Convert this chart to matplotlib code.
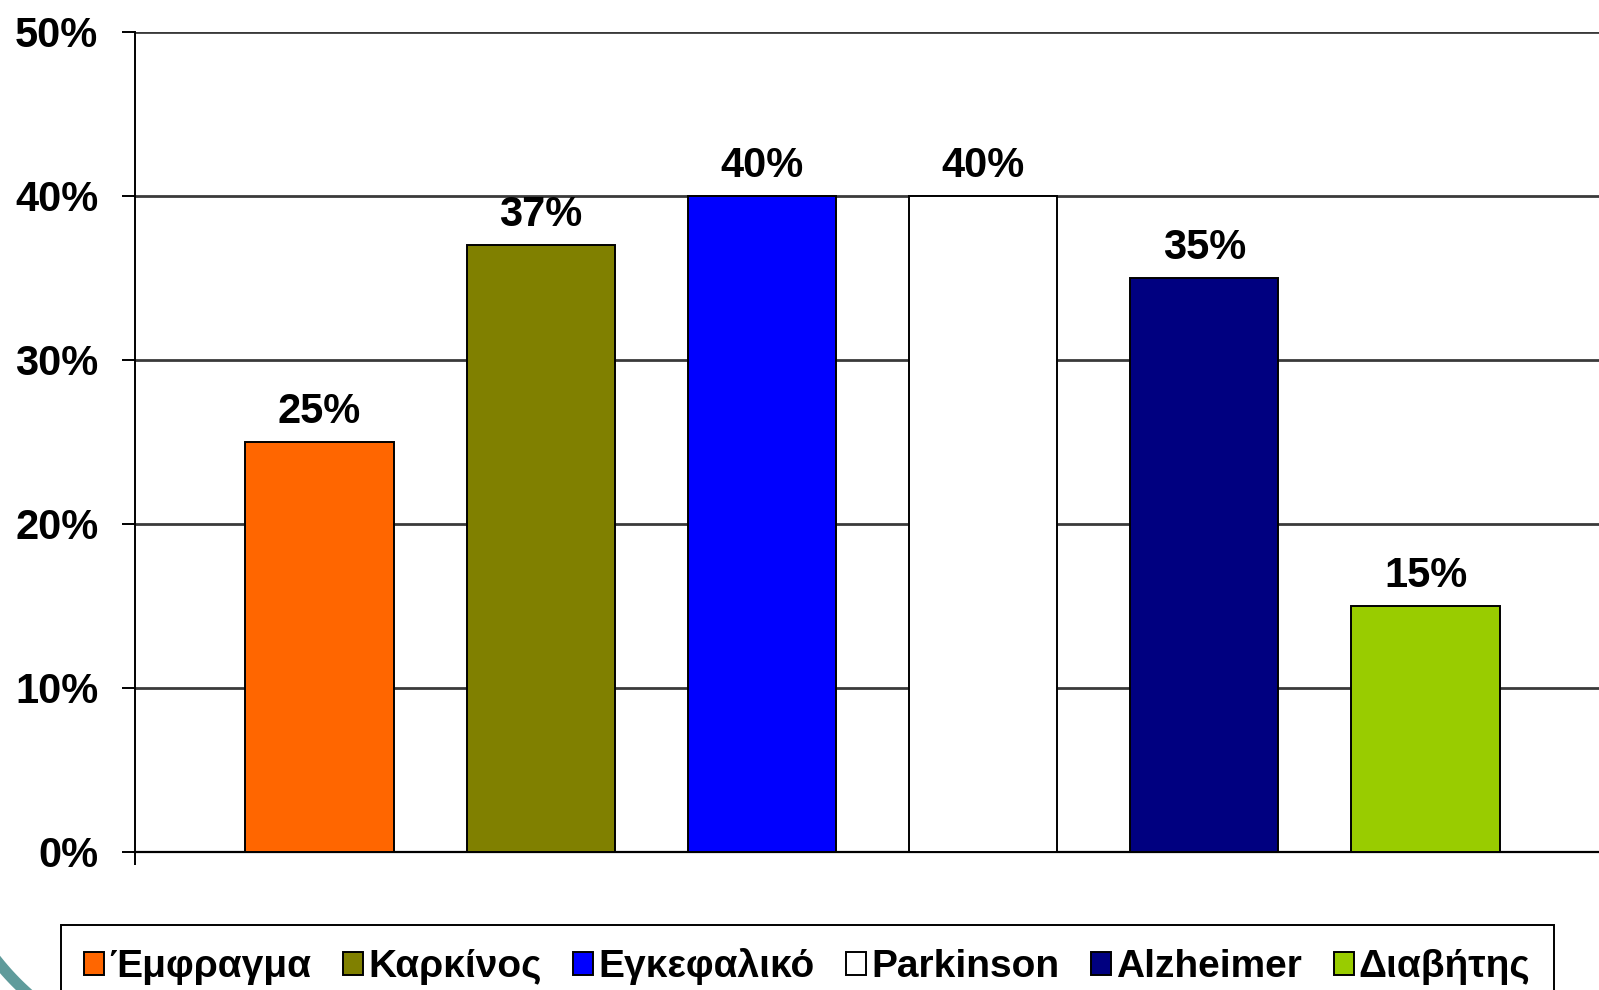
import numpy as np
import matplotlib.pyplot as plt
from matplotlib.lines import Line2D

plt.rcParams['font.family'] = ['Liberation Sans', 'DejaVu Sans']
plt.rcParams['font.weight'] = 'bold'

# δεδομένα
categories = ['Έμφραγμα', 'Καρκίνος', 'Εγκεφαλικό', 'Parkinson', 'Alzheimer', 'Διαβήτης']
values = [25, 37, 40, 40, 35, 15]
colors = ['#FF6600', '#808000', '#0000FF', '#FFFFFF', '#000080', '#99CC00']
yticks = [0, 10, 20, 30, 40, 50]

W, H = 1599, 990
fig = plt.figure(figsize=(W / 100, H / 100), dpi=100)
ax = fig.add_axes([135 / W, 1 - 851.7 / H, 1475 / W, 820 / H])

x = np.arange(len(categories))
bars = ax.bar(x, values, width=0.67, color=colors, edgecolor='black',
              linewidth=1.4, zorder=3)
handles = []
for i, b in enumerate(bars):
    b.set_label(categories[i])
    handles.append(b)

# ετικέτες
for xi, v in zip(x, values):
    ax.annotate(f'{v}%', (xi, v), xytext=(0, 13.7), textcoords='offset points',
                ha='center', va='baseline', fontsize=30, fontweight='bold')

ax.set_ylim(0, 50)
ax.set_xlim(-0.834, 5.834)
ax.set_yticks(yticks)
ax.set_yticklabels([f'{t}%' for t in yticks], fontsize=30, fontweight='bold')
ax.yaxis.grid(True, color='#3a3a3a', linewidth=2.0, zorder=0)
ax.tick_params(axis='y', length=9.4, width=1.4, pad=17, color='black')
ax.set_xticks([-0.834])
ax.set_xticklabels([''])
ax.tick_params(axis='x', length=9.4, width=1.4, color='black')

for s in ['top', 'right']:
    ax.spines[s].set_visible(False)
ax.spines['left'].set_linewidth(1.4)
ax.spines['bottom'].set_linewidth(1.6)

leg = fig.legend(handles=handles, loc='upper left', ncol=6,
                 bbox_to_anchor=(61 / W, 1 - 925 / H), bbox_transform=fig.transFigure,
                 borderaxespad=0, fontsize=28, handlelength=0.51, handleheight=0.51,
                 handletextpad=0.13, columnspacing=0.82, borderpad=0.6,
                 fancybox=False, framealpha=1, edgecolor='black')
leg.get_frame().set_linewidth(1.4)
for t in leg.get_texts():
    t.set_fontweight('bold')

# διακοσμητικό τόξο κάτω αριστερά
phi = np.radians(np.linspace(122, 150, 30))
cx, cy, r = 200, 800, 259
fig.add_artist(Line2D((cx + r * np.cos(phi)) / W, 1 - (cy + r * np.sin(phi)) / H,
                      color='#5F9B9B', linewidth=8, transform=fig.transFigure))

fig.savefig('out.png', dpi=100)
